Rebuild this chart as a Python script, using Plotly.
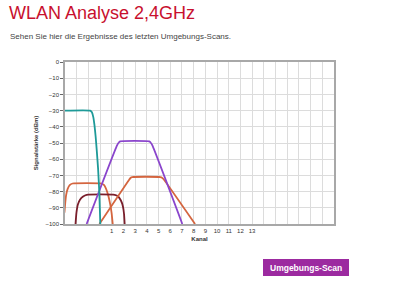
import plotly.graph_objects as go

# ---- data ----
channels = list(range(1, 14))
y_ticks = [0, -10, -20, -30, -40, -50, -60, -70, -80, -90, -100]

teal_x = [-3, -0.85, -0.7, -0.58, -0.48, -0.38, -0.28, -0.17, -0.07, 0.02]
teal_y = [-30, -30, -31, -34, -39, -46, -55, -66, -80, -100]

purple_x = [-1.15, 1.45, 1.6, 1.72, 4.2, 4.32, 4.47, 7.03]
purple_y = [-100, -51.5, -49.7, -49, -49, -49.7, -51.5, -100]

orange_x = [-0.06, 2.5, 2.62, 2.75, 5.15, 5.3, 5.45, 8.12]
orange_y = [-100, -72.5, -71.4, -71, -71, -71.4, -72.5, -100]

orange2_x = [-3.05, -2.98, -2.9, -2.78, -2.6, -2.35, 0.1, 0.35, 0.55, 0.72, 0.87, 0.98, 1.08]
orange2_y = [-93, -87, -82, -78.5, -76, -75, -75, -76, -79, -83, -88, -93, -100]

maroon_x = [-2.1, -2.02, -1.9, -1.72, -1.45, -1.15, 1.25, 1.55, 1.78, 1.95, 2.05, 2.1]
maroon_y = [-100, -93, -88, -85, -83, -82, -82, -83, -85.5, -89, -94, -100]

# ---- figure geometry ----
W, H = 399, 287
L, R, T, B = 65, 334, 62, 224


def px2x(px):
    return (px - L) / (R - L)


def py2y(py):
    return (B - py) / (B - T)


fig = go.Figure()
series = [
    (orange2_x, orange2_y, "#d4653f"),
    (maroon_x, maroon_y, "#7a1f2c"),
    (orange_x, orange_y, "#d4653f"),
    (purple_x, purple_y, "#8a45cc"),
    (teal_x, teal_y, "#1e9a98"),
]
for xs, ys, col in series:
    fig.add_trace(go.Scatter(x=xs, y=ys, mode="lines",
                             line=dict(color=col, width=1.8, shape="spline", smoothing=0.5),
                             hoverinfo="skip", showlegend=False))

xt = list(range(-3, 21))
fig.update_xaxes(range=[-3, 20], tickvals=xt,
                 ticktext=[str(v) if v in channels else "" for v in xt],
                 showgrid=True, gridcolor="#dcdcdc", gridwidth=1,
                 showline=True, mirror=True, linecolor="#a8a8a8", linewidth=2,
                 ticks="", zeroline=False,
                 tickfont=dict(family="Liberation Sans", size=6, color="#333"),
                 title=dict(text="<b>Kanal</b>", standoff=4,
                            font=dict(family="Liberation Sans", size=6, color="#333")))
fig.update_yaxes(range=[-100, 0], tickvals=y_ticks,
                 showgrid=True, gridcolor="#dcdcdc", gridwidth=1,
                 showline=True, mirror=True, linecolor="#a8a8a8", linewidth=1.5,
                 ticks="outside", ticklen=3, tickcolor="#666", zeroline=False,
                 tickfont=dict(family="Liberation Sans", size=6, color="#333"),
                 title=dict(text="<b>Signalstärke (dBm)</b>", standoff=6,
                            font=dict(family="Liberation Sans", size=6, color="#333")))

fig.add_annotation(text="WLAN Analyse 2,4GHz", xref="paper", yref="paper",
                   x=px2x(7), y=py2y(1), xanchor="left", yanchor="top", showarrow=False,
                   font=dict(family="Liberation Sans", size=18, color="#c8102e"))
fig.add_annotation(text="Sehen Sie hier die Ergebnisse des letzten Umgebungs-Scans.",
                   xref="paper", yref="paper", x=px2x(8), y=py2y(30),
                   xanchor="left", yanchor="top", showarrow=False,
                   font=dict(family="Liberation Sans", size=8, color="#444"))

fig.add_shape(type="rect", xref="paper", yref="paper",
              x0=px2x(263), x1=px2x(349), y0=py2y(276), y1=py2y(259),
              fillcolor="#9c2aa0", line=dict(width=0))
fig.add_annotation(text="<b>Umgebungs-Scan</b>", xref="paper", yref="paper",
                   x=px2x(306), y=py2y(267.5), xanchor="center", yanchor="middle",
                   showarrow=False,
                   font=dict(family="Liberation Sans", size=8.5, color="white"))

fig.update_layout(width=W, height=H, margin=dict(l=L, r=W - R, t=T, b=H - B),
                  paper_bgcolor="white", plot_bgcolor="white")
fig.write_html("out.html")
